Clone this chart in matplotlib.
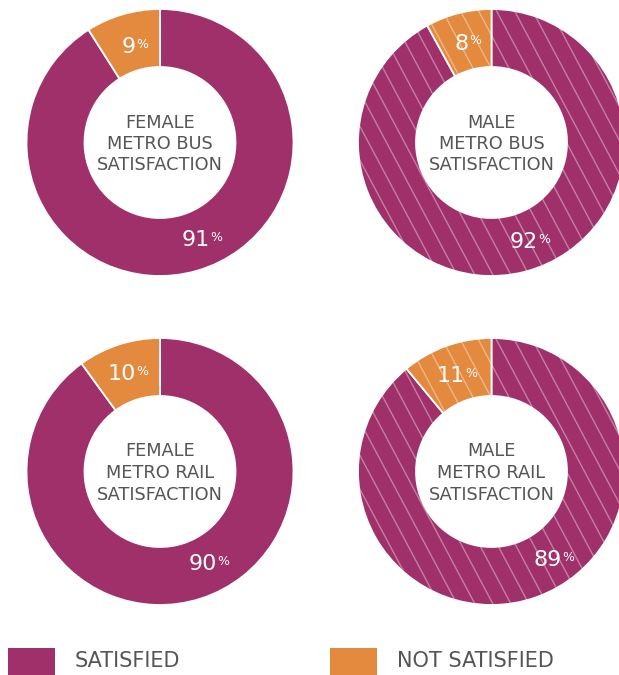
import numpy as np
import matplotlib
matplotlib.use("Agg")
import matplotlib.pyplot as plt
from matplotlib.collections import LineCollection
from matplotlib.patches import Rectangle

# ---------------- data ----------------
panel_titles = ["FEMALE\nMETRO BUS\nSATISFACTION", "MALE\nMETRO BUS\nSATISFACTION",
                "FEMALE\nMETRO RAIL\nSATISFACTION", "MALE\nMETRO RAIL\nSATISFACTION"]
satisfied = [91, 92, 90, 89]
not_satisfied = [9, 8, 10, 11]
hatched = [False, True, False, True]
legend_labels = ["SATISFIED", "NOT SATISFIED"]

# ---------------- style / layout ----------------
PURPLE = "#A0306A"
ORANGE = "#E38A3F"
TEXT = "#555555"
W, H = 619, 675
centers = [(160, 142.5), (491.5, 142.5), (160, 471.5), (491.5, 471.5)]  # pixel coords
R_OUT, RING = 133.5, 58
# label offsets (pixels, from donut center): (satisfied, not satisfied)
label_off = [((36, 98), (-31, -95.5)), ((32, 100), (-30, -99)),
             ((43, 92.5), (-38, -97.5)), ((56, 88.5), (-40.5, -95.5))]
FONT = "DejaVu Sans"

fig = plt.figure(figsize=(W / 100, H / 100), dpi=100)
ax = fig.add_axes([0, 0, 1, 1])

for i in range(4):
    cx, cyp = centers[i]
    cy = H - cyp
    wedges, _ = ax.pie([satisfied[i], not_satisfied[i]], colors=[PURPLE, ORANGE],
                       startangle=90, counterclock=False, radius=R_OUT, center=(cx, cy),
                       wedgeprops=dict(width=RING, edgecolor="white", linewidth=1.3))
    if hatched[i]:
        ang = np.deg2rad(62)
        segs = []
        for b in np.arange(cx - 2 * R_OUT, cx + 2 * R_OUT, 18):
            y0, y1 = cy + R_OUT + 5, cy - R_OUT - 5
            x0 = b - (y0 - cy) / np.tan(ang)
            x1 = b - (y1 - cy) / np.tan(ang)
            segs.append([(x0, y0), (x1, y1)])
        for w in wedges:
            lc = LineCollection(segs, colors="white", linewidths=1.0, alpha=0.38,
                                zorder=w.get_zorder() + 0.1)
            lc.set_clip_path(w)
            ax.add_collection(lc)
    ax.text(cx, cy - 1.5, panel_titles[i], ha="center", va="center", color=TEXT,
            fontsize=12.8, linespacing=1.25, family=FONT)
    for val, (dx, dy) in zip([satisfied[i], not_satisfied[i]], label_off[i]):
        t = ax.text(cx + dx, cy - dy, f"{val}", ha="center", va="center", color="white",
                    fontsize=16, family=FONT, zorder=5)
        ax.annotate("%", xy=(1, 0.97), xycoords=t, xytext=(0.3, 0), textcoords="offset points",
                    ha="left", va="top", color="white", fontsize=9, family=FONT, zorder=5)

# legend
leg_colors = [PURPLE, ORANGE]
leg_x = [8, 330]
for lab, col, x in zip(legend_labels, leg_colors, leg_x):
    ax.add_patch(Rectangle((x, 0), 47, H - 648, facecolor=col, edgecolor="none"))
    ax.text(x + 67, H - 661, lab, ha="left", va="center", color=TEXT, fontsize=15, family=FONT)

ax.set_xlim(0, W)
ax.set_ylim(0, H)
ax.set_aspect("equal")
ax.axis("off")
fig.savefig("out.png", dpi=100)
